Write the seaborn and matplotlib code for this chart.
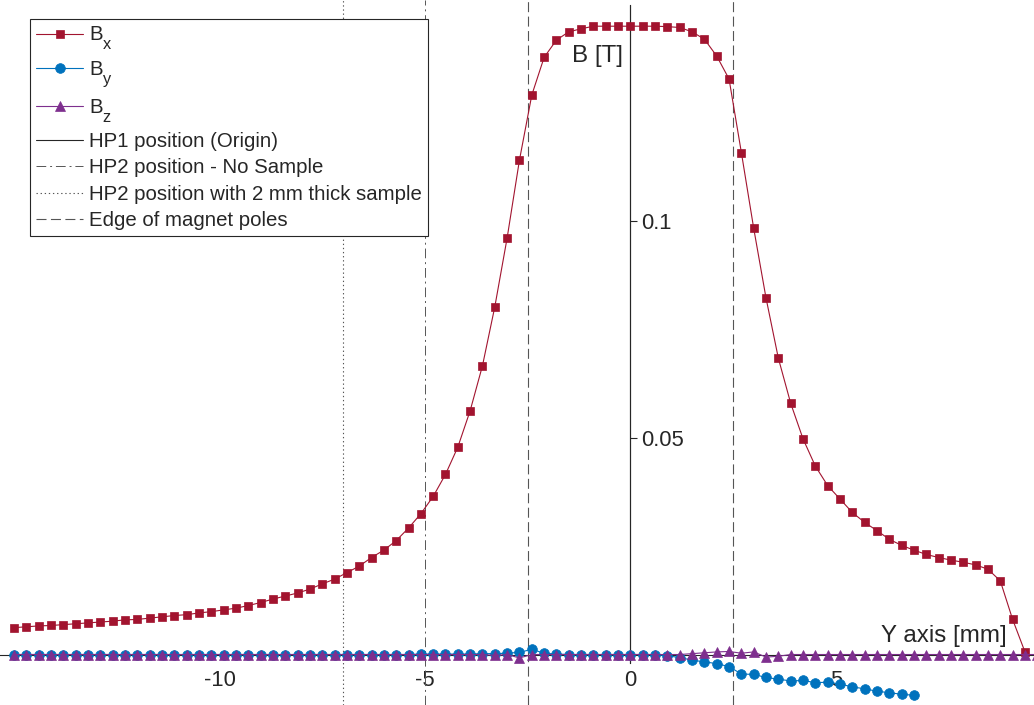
import numpy as np
import matplotlib
matplotlib.use("Agg")
import matplotlib.pyplot as plt
import seaborn as sns

# Measurement positions along the Y axis [mm]
y_pos = [-15.0, -14.7, -14.4, -14.1, -13.8, -13.5, -13.2, -12.9, -12.6, -12.3,
         -12.0, -11.7, -11.4, -11.1, -10.8, -10.5, -10.2, -9.9, -9.6, -9.3,
         -9.0, -8.7, -8.4, -8.1, -7.8, -7.5, -7.2, -6.9, -6.6, -6.3,
         -6.0, -5.7, -5.4, -5.1, -4.8, -4.5, -4.2, -3.9, -3.6, -3.3,
         -3.0, -2.7, -2.4, -2.1, -1.8, -1.5, -1.2, -0.9, -0.6, -0.3,
         0.0, 0.3, 0.6, 0.9, 1.2, 1.5, 1.8, 2.1, 2.4, 2.7,
         3.0, 3.3, 3.6, 3.9, 4.2, 4.5, 4.8, 5.1, 5.4, 5.7,
         6.0, 6.3, 6.6, 6.9, 7.2, 7.5, 7.8, 8.1, 8.4, 8.7,
         9.0, 9.3, 9.6, 9.9]

# Flux density components [T]
b_x = [0.0062, 0.0064, 0.0066, 0.0067, 0.0069, 0.0071, 0.0073, 0.0075, 0.0077, 0.0080,
       0.0081, 0.0084, 0.0087, 0.0090, 0.0092, 0.0096, 0.0099, 0.0103, 0.0107, 0.0113,
       0.0120, 0.0128, 0.0135, 0.0142, 0.0151, 0.0163, 0.0174, 0.0189, 0.0204, 0.0224,
       0.0241, 0.0263, 0.0292, 0.0325, 0.0365, 0.0416, 0.0479, 0.0563, 0.0667, 0.0803,
       0.0962, 0.1142, 0.1292, 0.1379, 0.1419, 0.1438, 0.1445, 0.1451, 0.1451, 0.1451,
       0.1451, 0.1451, 0.1451, 0.1450, 0.1448, 0.1438, 0.1421, 0.1382, 0.1329, 0.1159,
       0.0984, 0.0823, 0.0684, 0.0580, 0.0498, 0.0435, 0.0390, 0.0359, 0.0328, 0.0305,
       0.0286, 0.0266, 0.0252, 0.0241, 0.0231, 0.0224, 0.0218, 0.0213, 0.0207, 0.0197,
       0.0170, 0.0081, 0.0006]

b_y = [0.0000, 0.0000, 0.0000, 0.0000, 0.0000, 0.0000, 0.0000, 0.0000, 0.0000, 0.0000,
       0.0000, 0.0000, 0.0000, 0.0000, 0.0000, 0.0000, 0.0000, 0.0000, 0.0000, 0.0000,
       0.0000, 0.0000, 0.0000, 0.0000, 0.0000, 0.0000, 0.0000, 0.0000, 0.0000, 0.0000,
       0.0000, 0.0000, 0.0000, 0.0001, 0.0001, 0.0001, 0.0001, 0.0001, 0.0002, 0.0002,
       0.0003, 0.0005, 0.0012, 0.0003, 0.0001, 0.0000, 0.0000, 0.0000, 0.0000, 0.0000,
       0.0000, 0.0000, 0.0000, -0.0003, -0.0007, -0.0013, -0.0017, -0.0021, -0.0028, -0.0045,
       -0.0046, -0.0053, -0.0057, -0.0061, -0.0060, -0.0065, -0.0064, -0.0068, -0.0075, -0.0079,
       -0.0085, -0.0088, -0.0092, -0.0094]

b_z = [0.0000, 0.0000, 0.0000, 0.0000, 0.0000, 0.0000, 0.0000, 0.0000, 0.0000, 0.0000,
       0.0000, 0.0000, 0.0000, 0.0000, 0.0000, 0.0000, 0.0000, 0.0000, 0.0000, 0.0000,
       0.0000, 0.0000, 0.0000, 0.0000, 0.0000, 0.0000, 0.0000, 0.0000, 0.0000, 0.0000,
       0.0000, 0.0000, 0.0000, 0.0000, 0.0000, 0.0000, 0.0000, 0.0000, 0.0000, -0.0002,
       0.0000, -0.0008, 0.0000, 0.0000, 0.0000, 0.0000, 0.0000, 0.0000, 0.0000, 0.0000,
       0.0000, 0.0000, 0.0000, 0.0000, 0.0000, 0.0002, 0.0004, 0.0006, 0.0007, 0.0003,
       0.0006, -0.0006, -0.0004, 0.0000, 0.0000, 0.0000, 0.0000, 0.0000, 0.0000, 0.0000,
       0.0000, 0.0000, 0.0000, 0.0000, 0.0000, 0.0000, 0.0000, 0.0000, 0.0000, 0.0000,
       0.0000, 0.0000, 0.0000, 0.0000]

# Reference positions [mm]
hp1_pos = 0.0
hp2_no_sample = -5.0
hp2_with_sample = -7.0
pole_edges = [-2.5, 2.5]

x_ticks = [-10, -5, 0, 5]
x_tick_labels = ["-10", "-5", "0", "5"]
y_ticks = [0.05, 0.1]
y_tick_labels = ["0.05", "0.1"]

legend_labels = ["B$_x$", "B$_y$", "B$_z$", "HP1 position (Origin)",
                 "HP2 position - No Sample", "HP2 position with 2 mm thick sample",
                 "Edge of magnet poles"]

C_BX = "#A2142F"
C_BY = "#0072BD"
C_BZ = "#7E2F8E"
C_TXT = "#262626"
C_REF = "#555555"
FS_TICK = 15.8
FS_LABEL = 17.4
FS_LEG = 14.7

# larger, lower subscripts in the legend labels
try:
    import matplotlib._mathtext as _mt
    _mt.SHRINK_FACTOR = 0.8
    _mt.FontConstantsBase.sub1 = 0.85
except Exception:
    pass

sns.set_theme(style="white")
plt.rcParams.update({
    "font.family": ["Liberation Sans", "DejaVu Sans"],
    "mathtext.fontset": "custom",
    "mathtext.rm": "Liberation Sans",
    "mathtext.it": "Liberation Sans",
    "mathtext.default": "regular",
    "axes.unicode_minus": False,
})

fig = plt.figure(figsize=(10.34, 7.05), dpi=100)
ax = fig.add_axes([0, 0, 1, 1])
ax.set_facecolor("white")

# vertical reference lines
h_hp2a = ax.axvline(hp2_no_sample, color=C_REF, lw=0.7, ls=(0, (10, 4, 2, 4)), zorder=1)
h_hp2b = ax.axvline(hp2_with_sample, color=C_REF, lw=0.8, ls=(0, (1.2, 2.5)), zorder=1)
h_edge = None
for e in pole_edges:
    h = ax.axvline(e, color=C_REF, lw=0.8, ls=(0, (9, 4)), zorder=1)
    h_edge = h_edge or h
h_hp1, = ax.plot([hp1_pos, hp1_pos], [-0.002, 0.15], color=C_TXT, lw=0.8, zorder=2)

# field components
common = dict(ax=ax, sort=False, estimator=None, lw=0.8, zorder=3)
sns.lineplot(x=y_pos[:len(b_x)], y=b_x, color=C_BX, marker="s", markersize=6,
             markeredgecolor=C_BX, markeredgewidth=0.5, **common)
sns.lineplot(x=y_pos[:len(b_y)], y=b_y, color=C_BY, marker="o", markersize=7,
             markeredgecolor=C_BY, markeredgewidth=0.5, **common)
sns.lineplot(x=y_pos[:len(b_z)], y=b_z, color=C_BZ, marker="^", markersize=7,
             markeredgecolor=C_BZ, markeredgewidth=0.5, **common)
h_bx, h_by, h_bz = ax.lines[-3:]

ax.set_xlim(-15.34, 9.82)
ax.set_ylim(-0.01166, 0.15115)

# axes through the origin
for s in ["top", "left"]:
    ax.spines[s].set_visible(False)
ax.spines["bottom"].set_position(("data", 0))
ax.spines["right"].set_position(("data", 0))
ax.spines["right"].set_bounds(-0.002, 0.15)
for s in ["bottom", "right"]:
    ax.spines[s].set_color(C_TXT)
    ax.spines[s].set_linewidth(0.8)
ax.yaxis.tick_right()
ax.set_xticks(x_ticks, x_tick_labels)
ax.set_yticks(y_ticks, y_tick_labels)
ax.tick_params(axis="x", direction="in", length=6, width=0.8, pad=11,
               labelsize=FS_TICK, colors=C_TXT)
ax.tick_params(axis="y", direction="out", length=5, width=0.8, pad=3,
               labelsize=FS_TICK, colors=C_TXT)
ax.grid(False)

ax.text(9.16, 0.003, "Y axis [mm]", ha="right", va="baseline", fontsize=FS_LABEL, color=C_TXT)
ax.text(-0.18, 0.1368, "B [T]", ha="right", va="baseline", fontsize=FS_LABEL, color=C_TXT)

leg = ax.legend([h_bx, h_by, h_bz, h_hp1, h_hp2a, h_hp2b, h_edge], legend_labels,
                loc="upper left", bbox_to_anchor=(30 / 1034, 1 - 19 / 705),
                bbox_transform=fig.transFigure, borderaxespad=0, fontsize=FS_LEG,
                frameon=True, fancybox=False, framealpha=1, edgecolor=C_TXT,
                handlelength=2.3, handletextpad=0.3, borderpad=0.3, labelspacing=0.36)
leg.get_frame().set_linewidth(0.8)
for t in leg.get_texts():
    t.set_color(C_TXT)

fig.savefig("out.png", dpi=100, facecolor="white")
